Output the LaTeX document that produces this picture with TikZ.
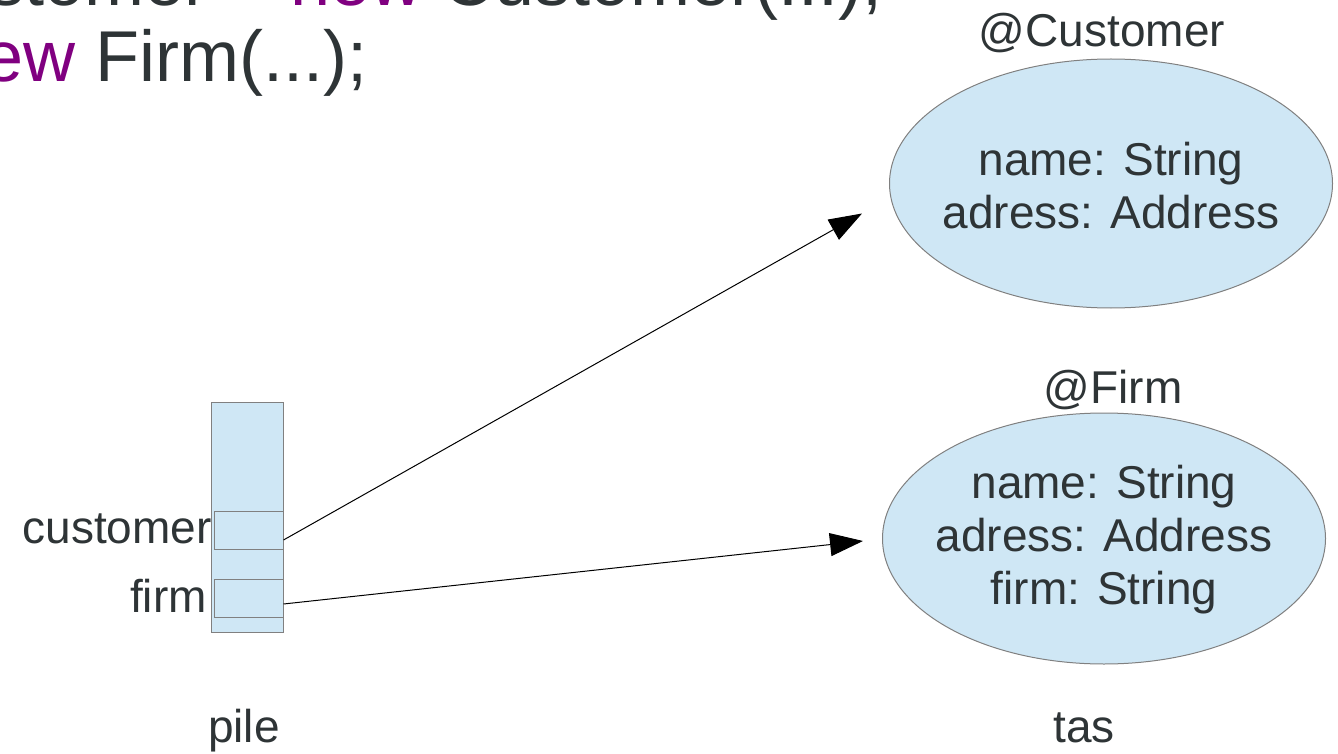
\documentclass[tikz,border=0pt]{standalone}
\usepackage{fontspec}
\setmainfont{Liberation Sans}
\usetikzlibrary{arrows.meta,shapes.geometric}

\definecolor{boxblue}{HTML}{CFE7F5}
\definecolor{txtgray}{HTML}{2E3436}
\definecolor{kwpurple}{HTML}{800080}

\begin{document}
\begin{tikzpicture}[x=1pt, y=-1pt,
    every node/.style={text=txtgray, inner sep=0pt, font=\fontsize{46}{53}\selectfont},
    code/.style={anchor=base west, font=\fontsize{72}{80}\selectfont},
    objet/.style={ellipse, draw=gray, fill=boxblue, line width=1pt, minimum width=443pt},
    cellule/.style={draw=gray, fill=boxblue, line width=1pt},
    ref/.style={-{Triangle[length=33pt,width=23pt]}, black, line width=1pt}]

\useasboundingbox (0,0) rectangle (1338,754);
\clip (0,0) rectangle (1338,754);

% code
\node[code] (code1) at (-88,6) {customer = \textcolor{kwpurple}{new} Customer(...);};
\node[code] (code2) at (-259,82) {firm = \textcolor{kwpurple}{new} Firm(...);};

% pile
\node[cellule, minimum width=72pt, minimum height=230pt] (pile) at (247,517) {};
\node[cellule, minimum width=69pt, minimum height=38pt] (custslot) at (248.5,530) {};
\node[cellule, minimum width=69pt, minimum height=38pt] (firmslot) at (248.5,598) {};
\node[anchor=base east] (custlbl) at (212,543) {customer};
\node[anchor=base east] (firmlbl) at (207,612) {firm};
\node[anchor=base] (pilelbl) at (244,742) {pile};

% tas
\node[anchor=base] (custname) at (1102,47) {@Customer};
\node[objet, minimum height=249pt] (custobj) at (1111,183.5) {};
\node[align=center] (custtxt) at (1111,186) {name: String\\adress: Address};

\node[anchor=base] (firmname) at (1113,403) {@Firm};
\node[objet, minimum height=251pt] (firmobj) at (1104,538.5) {};
\node[align=center] (firmtxt) at (1104,540) {name: String\\adress: Address\\firm: String};

\node[anchor=base] (taslbl) at (1084,742) {tas};

% references
\coordinate (custtip) at ([shift={(-27,30)}]custobj.west);
\coordinate (firmtip) at ([shift={(-19,2.5)}]firmobj.west);
\draw[ref] ([yshift=-10pt]custslot.east) -- (custtip);
\draw[ref] ([yshift=-6pt]firmslot.east) -- (firmtip);

\end{tikzpicture}
\end{document}
